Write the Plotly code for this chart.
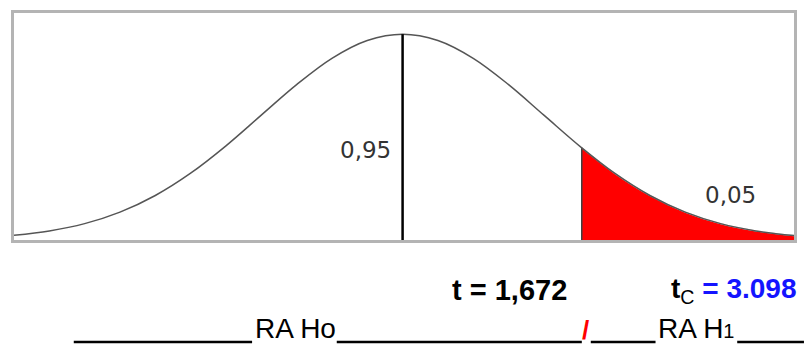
import plotly.graph_objects as go

# Curva (en unidades t)
curva_x = [-2.75, -2.5, -2.25, -2.0, -1.75, -1.5, -1.25, -1.0, -0.75, -0.5, -0.25, 0.0,
           0.25, 0.5, 0.75, 1.0, 1.268, 1.5, 1.75, 2.0, 2.25, 2.5, 2.77]
curva_y = [0.0091, 0.0175, 0.0317, 0.054, 0.0863, 0.1295, 0.1826, 0.242, 0.3011, 0.3521, 0.3867, 0.3989,
           0.3867, 0.3521, 0.3011, 0.242, 0.1787, 0.1295, 0.0863, 0.054, 0.0317, 0.0175, 0.0085]

# Cola de rechazo (0,05)
cola_x = [1.268, 1.5, 1.75, 2.0, 2.25, 2.5, 2.77]
cola_y = [0.1787, 0.1295, 0.0863, 0.054, 0.0317, 0.0175, 0.0085]

media_x = [0.0, 0.0]
media_y = [0.0, 0.3989]

etiqueta_centro = "0,95"
etiqueta_cola = "0,05"
t_calc = "1,672"
t_crit = "3.098"

fig = go.Figure()

# Area roja
fig.add_trace(go.Scatter(
    x=cola_x, y=cola_y, mode="lines", fill="tozeroy",
    fillcolor="#ff0000", line=dict(color="#d0d0d0", width=1.2, shape="spline"),
    hoverinfo="skip",
))
# Borde izquierdo de la cola
fig.add_trace(go.Scatter(
    x=[cola_x[0], cola_x[0]], y=[0, cola_y[0]], mode="lines",
    line=dict(color="#404040", width=1.5), hoverinfo="skip",
))
# Curva
fig.add_trace(go.Scatter(
    x=curva_x, y=curva_y, mode="lines",
    line=dict(color="#555555", width=1.5, shape="spline"), hoverinfo="skip",
))
# Linea central
fig.add_trace(go.Scatter(
    x=media_x, y=media_y, mode="lines",
    line=dict(color="black", width=2.5), hoverinfo="skip",
))

fuente = "Liberation Sans, Arial, sans-serif"

anotaciones = [
    dict(x=-0.065, y=0.175, xref="x", yref="y", text=etiqueta_centro, xanchor="right",
         font=dict(family="DejaVu Sans", size=23, color="#333333")),
    dict(x=2.32, y=0.087, xref="x", yref="y", text=etiqueta_cola, xanchor="center",
         font=dict(family="DejaVu Sans", size=23, color="#333333")),
    dict(x=(452 - 14) / 783, y=(240 - 290) / 227, text="<b>t = " + t_calc + "</b>",
         xanchor="left", font=dict(family=fuente, size=29, color="black")),
    dict(x=(801 - 14) / 783, y=(240 - 290) / 227,
         text="<b>t</b><sub>C</sub><b><span style='color:#1414ff'> = " + t_crit + "</span></b>",
         xanchor="right", font=dict(family=fuente, size=28, color="black")),
    dict(x=(254 - 14) / 783, y=(240 - 328) / 227, text="RA Ho",
         xanchor="left", font=dict(family=fuente, size=28, color="black")),
    dict(x=(588 - 14) / 783, y=(240 - 330) / 227, text="<b>/</b>",
         xanchor="center", font=dict(family=fuente, size=26, color="#ff0000")),
    dict(x=(658 - 14) / 783, y=(240 - 328) / 227,
         text="RA H<span style='font-size:20px'>1</span>",
         xanchor="left", font=dict(family=fuente, size=28, color="black")),
]
for a in anotaciones:
    a.setdefault("xref", "paper")
    a.setdefault("yref", "paper")
    a.setdefault("yanchor", "middle")
    a["showarrow"] = False

# Rayas de subrayado
subrayados = [(74, 253), (338, 584), (593, 658), (740, 807)]
formas = []
for x0, x1 in subrayados:
    formas.append(dict(
        type="line", xref="paper", yref="paper",
        x0=(x0 - 14) / 783, x1=(x1 - 14) / 783,
        y0=(240 - 342) / 227, y1=(240 - 342) / 227,
        line=dict(color="black", width=2.5),
    ))

fig.update_layout(
    width=807, height=345,
    margin=dict(l=14, r=10, t=13, b=105),
    plot_bgcolor="white",
    paper_bgcolor="white",
    showlegend=False,
    annotations=anotaciones,
    shapes=formas,
)
fig.update_xaxes(range=[-2.75, 2.77], showgrid=False, zeroline=False, showticklabels=False,
                 showline=True, mirror=True, linecolor="#b4b4b4", linewidth=2.5, ticks="")
fig.update_yaxes(range=[0, 0.44], showgrid=False, zeroline=False, showticklabels=False,
                 showline=True, mirror=True, linecolor="#b4b4b4", linewidth=2.5, ticks="")

fig.write_html("out.html", config={"displayModeBar": False},
               post_script="document.body.style.margin='0';document.body.style.overflow='hidden';")
